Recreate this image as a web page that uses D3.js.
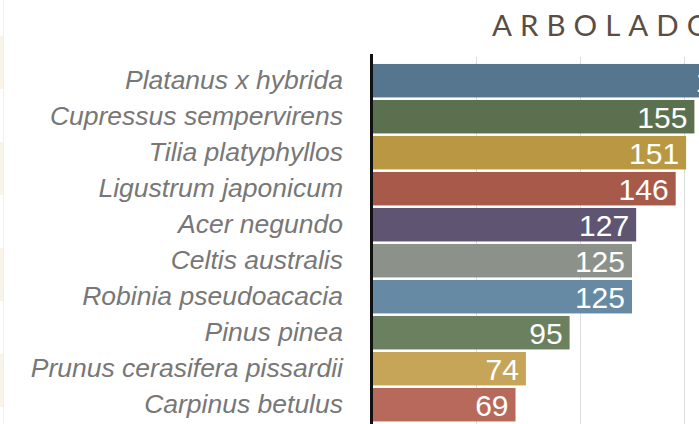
<!DOCTYPE html>
<html>
<head>
<meta charset="utf-8">
<script src="https://cdn.jsdelivr.net/npm/d3@7"></script>
<style>
  html, body { margin: 0; padding: 0; background: #fff; overflow: hidden; }
</style>
</head>
<body>
<svg id="mainsvg" width="699" height="424"></svg>
<script>
// especies del arbolado, nº de ejemplares
var species = ["Platanus x hybrida", "Cupressus sempervirens", "Tilia platyphyllos",
  "Ligustrum japonicum", "Acer negundo", "Celtis australis", "Robinia pseudoacacia",
  "Pinus pinea", "Prunus cerasifera pissardii", "Carpinus betulus"];
var counts = [183, 155, 151, 146, 127, 125, 125, 95, 74, 69];
var barColors = ["#56758f", "#5b704e", "#ba9843", "#a85a4a", "#5f5573",
  "#8c918a", "#6689a4", "#6b805e", "#c6a458", "#b76a5c"];
var gridTicks = [50, 100, 150];
var stripes = [0, 1, 2, 3];

var svg = d3.select("#mainsvg");

// faint page table edge on the left
svg.selectAll("rect.stripe")
    .data(stripes)
    .enter().append("rect")
    .attr("class", "stripe")
    .attr("x", 0)
    .attr("y", function(d){ return 36 + d * 106; })
    .attr("width", 4)
    .attr("height", 53)
    .style("fill", "#faf4e8");
svg.append("line")
    .attr("x1", 3.5).attr("x2", 3.5)
    .attr("y1", 0).attr("y2", 424)
    .style("stroke", "#efefef");

var x = d3.scaleLinear().domain([0, 100]).range([372, 580]);
var y = d3.scaleBand().domain(species).range([62.7, 422.7])
    .paddingInner(0.07).paddingOuter(0.035);

svg.append("text")
    .attr("x", 492)
    .attr("y", 36)
    .text("ARBOLADO")
    .style("font-family", "Lato, 'Open Sans', sans-serif")
    .style("font-weight", 400)
    .style("font-size", "29.5px")
    .style("letter-spacing", "8px")
    .style("fill", "#5a4e43");

svg.selectAll("line.grid")
    .data(gridTicks)
    .enter().append("line")
    .attr("class", "grid")
    .attr("x1", function(d){ return x(d) + 0.5; })
    .attr("x2", function(d){ return x(d) + 0.5; })
    .attr("y1", 57)
    .attr("y2", 424)
    .style("stroke", "#dcdcdc")
    .style("stroke-width", 1);

var rows = svg.selectAll("g.row")
    .data(species)
    .enter().append("g")
    .attr("class", "row");

rows.append("rect")
    .attr("x", x(0))
    .attr("y", function(d){ return y(d); })
    .attr("width", function(d, i){ return x(counts[i]) - x(0); })
    .attr("height", y.bandwidth())
    .style("fill", function(d, i){ return barColors[i]; });

rows.append("text")
    .attr("x", function(d, i){ return x(counts[i]) - 7; })
    .attr("y", function(d){ return y(d) + y.bandwidth() / 2; })
    .attr("dy", "0.36em")
    .attr("text-anchor", "end")
    .text(function(d, i){ return counts[i]; })
    .style("font-family", "'Liberation Sans', Arial, sans-serif")
    .style("font-size", "30px")
    .style("fill", "#fff");

rows.append("text")
    .attr("x", 343)
    .attr("y", function(d){ return y(d) + y.bandwidth() / 2; })
    .attr("dy", "0.33em")
    .attr("text-anchor", "end")
    .text(function(d){ return d; })
    .style("font-family", "'Liberation Sans', Arial, sans-serif")
    .style("font-style", "italic")
    .style("font-size", "26.5px")
    .style("fill", "#777");

svg.append("line")
    .attr("x1", 371.5).attr("x2", 371.5)
    .attr("y1", 54).attr("y2", 424)
    .style("stroke", "#111")
    .style("stroke-width", 3);
</script>
</body>
</html>
